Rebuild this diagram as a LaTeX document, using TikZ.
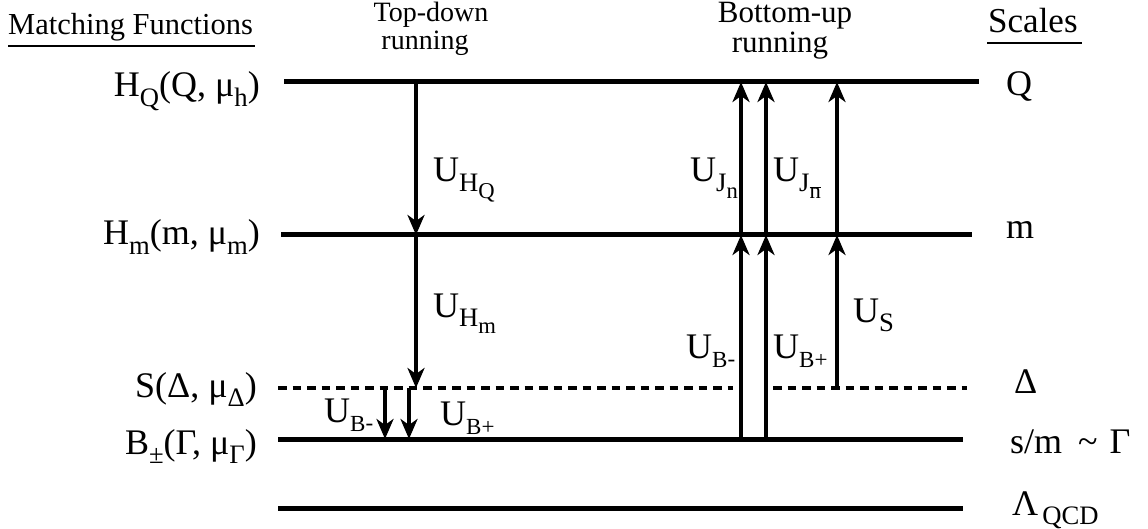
\documentclass[tikz,border=0pt]{standalone}
\usepackage{fontspec}
\setmainfont{Liberation Serif}
\usetikzlibrary{arrows.meta}
\newcommand\mysub[2][0.74]{\raisebox{-0.26em}{\scalebox{#1}{#2}}}
\newcommand\fs[1]{\fontsize{#1}{#1}\selectfont}
\begin{document}
\begin{tikzpicture}[x=1pt,y=-1pt,
  level/.style={line width=5pt},
  dlevel/.style={line width=4pt, dash pattern=on 8.5pt off 6pt},
  run/.style={line width=3.5pt,-{Stealth[length=20pt,width=17pt,inset=6pt]}},
  lab/.style={inner sep=0pt, font=\fs{36}},
  ulab/.style={inner sep=0pt, font=\fs{36}},
  uline/.style={line width=2pt}
]
\useasboundingbox (0,0) rectangle (1148,529);

% headers
\node[inner sep=0pt, font=\fs{30.5}, anchor=base west] (mf) at (8,35) {Matching Functions};
\coordinate (mfl) at (8,46); \coordinate (mfr) at (255,46);
\draw[uline] (mfl) -- (mfr);
\node[inner sep=0pt, font=\fs{28}, anchor=base] (td1) at (431,22) {Top-down};
\node[inner sep=0pt, font=\fs{28}, anchor=base] (td2) at (425,50) {running};
\node[inner sep=0pt, font=\fs{31}, anchor=base] (bu1) at (785,23) {Bottom-up};
\node[inner sep=0pt, font=\fs{31}, anchor=base] (bu2) at (780,53) {running};
\node[inner sep=0pt, font=\fs{35}, anchor=base west] (sc) at (988,33) {Scales};
\coordinate (scl) at (987,43); \coordinate (scr) at (1082,43);
\draw[uline] (scl) -- (scr);

% level coordinates
\coordinate (Q0) at (284,82);  \coordinate (Q1) at (979,82);
\coordinate (m0) at (281,235); \coordinate (m1) at (972,235);
\coordinate (d0) at (278,388); \coordinate (da) at (733,388);
\coordinate (db) at (773,388); \coordinate (d1) at (967,388);
\coordinate (g0) at (278,439); \coordinate (g1) at (963,439);
\coordinate (l0) at (278,508); \coordinate (l1) at (963,508);

\draw[level] (Q0) -- (Q1);
\draw[level] (m0) -- (m1);
\draw[dlevel] (d0) -- (da);
\draw[dlevel] (db) -- (d1);
\draw[level] (g0) -- (g1);
\draw[level] (l0) -- (l1);

% arrow coordinates
\coordinate (tQ) at (416,82);  \coordinate (tm) at (416,235); \coordinate (td) at (416,388);
\coordinate (sa0) at (385,388); \coordinate (sa1) at (385,439);
\coordinate (sb0) at (409,388); \coordinate (sb1) at (409,439);
\coordinate (aG) at (741,439); \coordinate (am) at (741,235); \coordinate (aQ) at (741,82);
\coordinate (bG) at (766,439); \coordinate (bm) at (766,235); \coordinate (bQ) at (766,82);
\coordinate (cD) at (837,388); \coordinate (cm) at (837,235); \coordinate (cQ) at (837,82);

\draw[run] (tQ) -- (tm);
\draw[run] (tm) -- (td);
\draw[run] (sa0) -- (sa1);
\draw[run] (sb0) -- (sb1);
\draw[run] (aG) -- (am);
\draw[run] (am) -- (aQ);
\draw[run] (bG) -- (bm);
\draw[run] (bm) -- (bQ);
\draw[run] (cD) -- (cm);
\draw[run] (cm) -- (cQ);

% left labels
\node[lab, anchor=base east] (hq) at (260,97) {H\mysub{Q}(Q, μ\mysub{h})};
\node[lab, anchor=base east] (hm) at (260,245) {H\mysub{m}(m, μ\mysub{m})};
\node[lab, anchor=base east] (sd) at (257,397) {S(Δ, μ\mysub{Δ})};
\node[lab, anchor=base east] (bg) at (257,454) {B\mysub{±}(Γ, μ\mysub{Γ})};

% right labels
\node[lab, anchor=base west] (rq) at (1006,96) {Q};
\node[lab, anchor=base west] (rm) at (1006,239) {m};
\node[lab, anchor=base west] (rd) at (1014,393) {Δ};
\node[lab, anchor=base west] (rg) at (1010,453) {s/m\hspace{16pt}\textasciitilde\hspace{12pt}Γ};
\node[lab, anchor=base west] (rl) at (1012,515) {Λ\hspace{4pt}\raisebox{-9pt}{\scalebox{0.74}{QCD}}};

% arrow labels
\node[ulab, anchor=base west] (uhq) at (433,182) {U\mysub{H\mysub[0.85]{Q}}};
\node[ulab, anchor=base west] (uhm) at (433,317) {U\mysub{H\mysub[0.85]{m}}};
\node[ulab, anchor=base west] (ujn) at (690,182) {U\mysub{J\mysub[0.85]{n}}};
\node[ulab, anchor=base west] (ujb) at (773,182) {U\mysub{J\mysub[0.85]{$\overline{\hbox{n}}$}}};
\node[ulab, anchor=base west] (ubmr) at (686,358) {U\mysub[0.64]{B\raisebox{0.05em}{-}}};
\node[ulab, anchor=base west] (ubpr) at (773,358) {U\mysub[0.64]{B+}};
\node[ulab, anchor=base west] (us) at (853,322) {U\mysub{S}};
\node[ulab, anchor=base west] (ubml) at (324,422) {U\mysub[0.64]{B\raisebox{0.05em}{-}}};
\node[ulab, anchor=base west] (ubpl) at (440,425) {U\mysub[0.64]{B+}};
\end{tikzpicture}
\end{document}
